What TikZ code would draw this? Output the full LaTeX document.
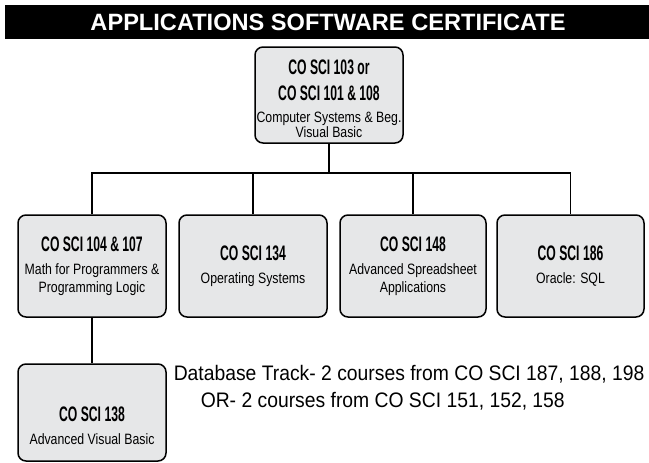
\documentclass[tikz,border=0pt]{standalone}
\usepackage{fontspec}
\setmainfont{Liberation Sans}
\newfontfamily\titlefam{Liberation Sans}
\newfontfamily\hdfam[FakeStretch=0.58]{Liberation Sans}
\newfontfamily\dsfam[FakeStretch=0.82]{Liberation Sans}
\newfontfamily\notefam[FakeStretch=0.92]{Liberation Sans}
\newcommand{\hd}{\hdfam\bfseries\fontsize{21}{22}\selectfont}
\definecolor{boxgray}{HTML}{E6E7E8}

\begin{document}
\begin{tikzpicture}[x=1pt, y=-1pt, line width=1.5pt,
    course/.style = {draw, fill=boxgray, rounded corners=8pt, inner sep=0pt, align=center,
                     minimum width=148pt, font=\dsfam\fontsize{15}{16}\selectfont},
    note/.style = {anchor=west, inner sep=0pt, font=\notefam\fontsize{21}{26}\selectfont}]
    \useasboundingbox (0,0) rectangle (649,463);
    \clip (0,0) rectangle (649,463);

    \fill (5,5) rectangle (649,39);
    \node[text=white, font=\titlefam\bfseries\fontsize{23.6}{26}\selectfont] (title) at (328,22) {APPLICATIONS SOFTWARE CERTIFICATE};

    \node[course, minimum height=96pt] (c103) at (329,95) {};
    \node[align=center, inner sep=0pt, font=\dsfam\fontsize{15}{16}\selectfont] (c103t) at (329,99) {{\hd CO SCI 103 or}\\[10pt]{\hd CO SCI 101 \& 108}\\[6pt]Computer Systems \& Beg.\\[-1pt]Visual Basic};

    \node[course, minimum height=102pt] (c104) at (92,266) {{\hd CO SCI 104 \& 107}\\[7pt]Math for Programmers \&\\[2pt]Programming Logic};
    \node[course, minimum height=102pt] (c134) at (253,266) {{\hd CO SCI 134}\\[7pt]Operating Systems};
    \node[course, minimum height=102pt, minimum width=146pt] (c148) at (413,266) {{\hd CO SCI 148}\\[7pt]Advanced Spreadsheet\\[2pt]Applications};
    \node[course, minimum height=102pt, minimum width=147pt] (c186) at (570.5,266) {{\hd CO SCI 186}\\[7pt]Oracle: SQL};

    \node[course, minimum height=97pt] (c138) at (92,412.5) {};
    \node[align=center, inner sep=0pt, font=\dsfam\fontsize{15}{16}\selectfont] (c138t) at (92,426) {{\hd CO SCI 138}\\[7pt]Advanced Visual Basic};

    \node[note] (dbtrack) at (173,374) {Database Track- 2 courses from CO SCI 187, 188, 198};
    \node[note] (ortrack) at (200,401) {OR- 2 courses from CO SCI 151, 152, 158};

    \coordinate (hub) at (329,173);
    \draw (c103.south) -- (hub);
    \draw (c104.north) |- (c186.north |- hub) -- (c186.north);
    \draw (c134.north) -- (c134.north |- hub);
    \draw (c148.north) -- (c148.north |- hub);
    \draw (c104.south) -- (c138.north);
\end{tikzpicture}
\end{document}
